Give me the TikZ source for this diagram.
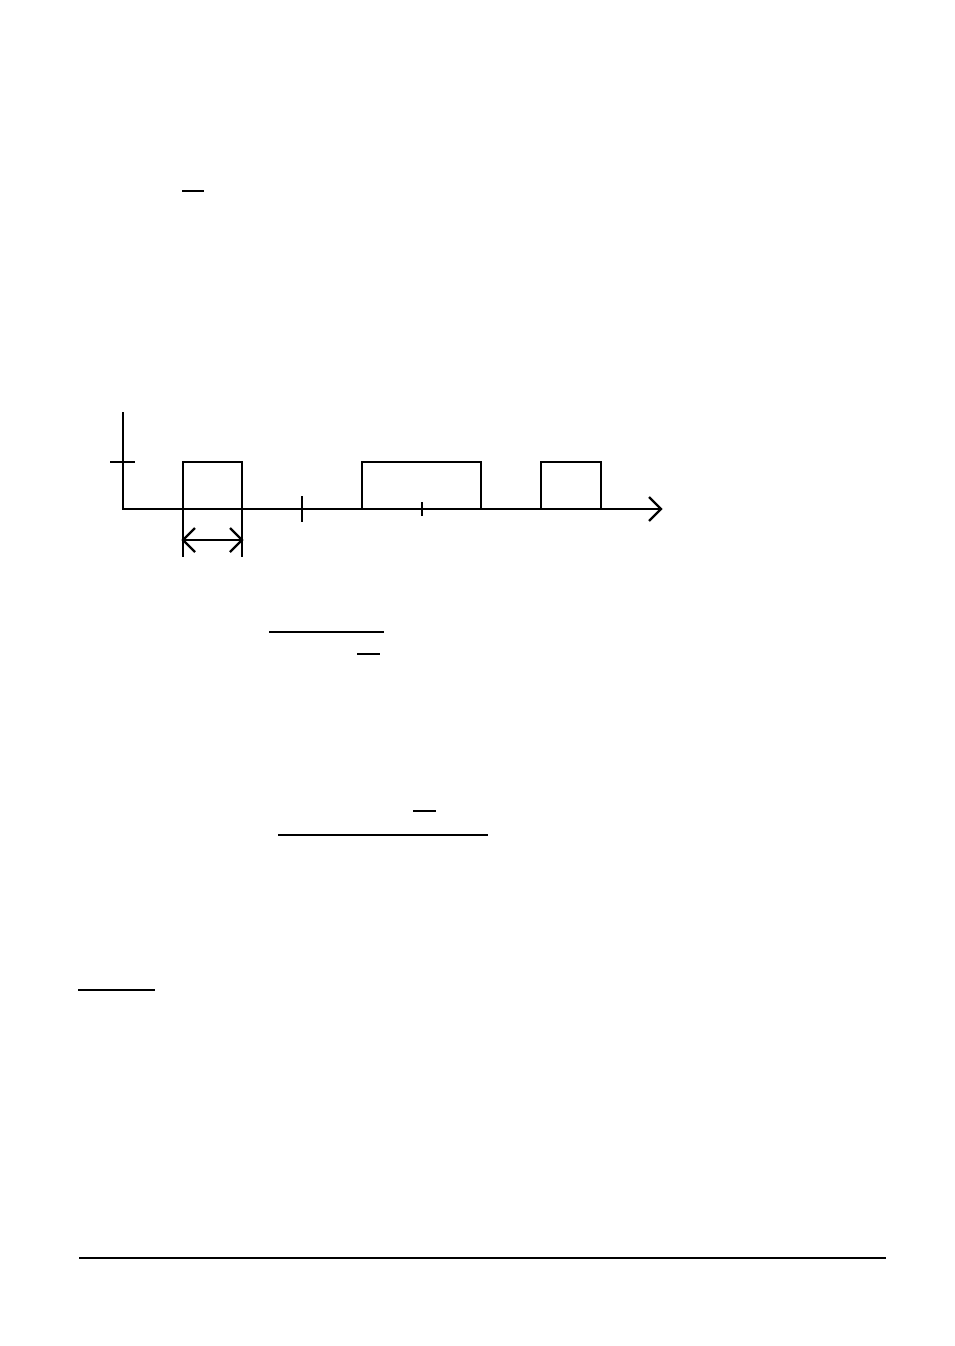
\documentclass[tikz,border=0pt]{standalone}
\begin{document}
\begin{tikzpicture}[x=1pt,y=-1pt,
  axis/.style={line width=2.6pt,line cap=rect},
  pulse/.style={line width=2.4pt},
  bar/.style={line width=2pt},
  rule/.style={line width=1.2pt}]
\useasboundingbox (0,0) rectangle (954,1346);
\fill[white] (0,0) rectangle (954,1346);
% small bars and fraction lines
\draw[bar] (182,191) -- (204,191);
\draw[bar] (269,632) -- (384,632);
\draw[bar] (357,654) -- (380,654);
\draw[bar] (413,811) -- (436,811);
\draw[bar] (278,835) -- (488,835);
\draw[bar] (78,990) -- (155,990);
\draw[rule] (79,1258) -- (886,1258);
% axes
\coordinate (O) at (123,509);
\coordinate (ytop) at (123,413);
\coordinate (xtip) at (661,509);
\draw[axis] (ytop) -- (O) -- (xtip);
\draw[pulse] (649,497) -- (xtip) -- (649,521);
\draw[pulse] (110,462) -- (135,462);
% ticks
\draw[pulse] (302,496) -- (302,522);
\draw[pulse] (422,502) -- (422,516);
% pulses
\draw[pulse] (183,509) -- (183,462) -- (242,462) -- (242,509);
\draw[pulse] (362,509) -- (362,462) -- (481,462) -- (481,509);
\draw[pulse] (541,509) -- (541,462) -- (601,462) -- (601,509);
% dimension
\draw[pulse] (183,509) -- (183,557);
\draw[pulse] (242,509) -- (242,557);
\draw[pulse] (183,540) -- (242,540);
\draw[pulse] (195,528) -- (183,540) -- (195,552);
\draw[pulse] (230,528) -- (242,540) -- (230,552);
\end{tikzpicture}
\end{document}
